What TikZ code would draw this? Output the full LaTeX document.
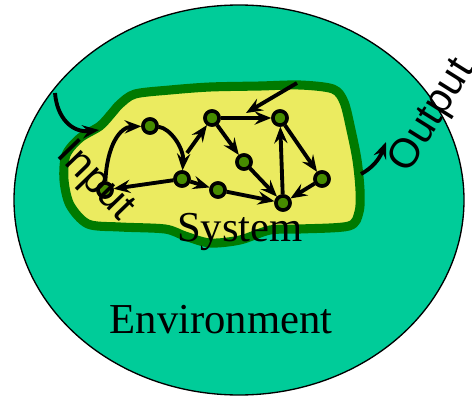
\documentclass[tikz,border=0pt]{standalone}
\usepackage{fontspec}
\setmainfont{Liberation Serif}
\newfontfamily\labelsans{Liberation Sans}
\usetikzlibrary{arrows.meta}
\definecolor{envfill}{RGB}{0,204,153}
\definecolor{sysfill}{RGB}{235,235,96}
\definecolor{sysedge}{RGB}{0,122,0}
\definecolor{statefill}{RGB}{70,140,0}
\begin{document}
\begin{tikzpicture}[x=0.75pt,y=-0.75pt,
  state/.style={circle,draw=black,fill=statefill,line width=2.6pt,minimum size=10.5pt,inner sep=0pt},
  flow/.style={line width=2.9pt,-{Stealth[length=12.5pt,width=10pt,inset=4.5pt]}},
  bigserif/.style={font=\fontsize{32}{36}\selectfont},
  sidelabel/.style={font=\labelsans\fontsize{31}{36}\selectfont},
]
\useasboundingbox (0,0) rectangle (472,396);

% environment
\draw[fill=envfill,line width=1pt] (239,200) ellipse [x radius=225, y radius=195];

% system boundary
\draw[sysedge,fill=sysfill,line width=6.8pt,line join=round]
  plot[smooth cycle,tension=0.5] coordinates {
  (120,104) (135,94) (170,90) (210,87) (260,86) (300,85) (333,89) (344,102)
  (351,130) (357,160) (360,190) (359,212) (349,226) (300,229) (270,230)
  (240,240) (210,243) (185,236) (165,229) (120,227) (88,224) (70,205)
  (64,180) (66,155) (80,138) (100,126) (112,113)};

% states
\node[state] (A) at (150,126) {};
\node[state] (B) at (182,179) {};
\node[state] (C) at (105,190) {};
\node[state] (D) at (218,190) {};
\node[state] (E) at (212,118) {};
\node[state] (F) at (244,162) {};
\node[state] (G) at (280,118) {};
\node[state] (H) at (283,203) {};
\node[state] (I) at (322,179) {};

% free ends of the outer and stub arrows
\coordinate (inA) at (55,93);
\coordinate (inB) at (99,130);
\coordinate (outA) at (361,174);
\coordinate (outB) at (386,142);
\coordinate (topA) at (297,83);
\coordinate (topB) at (246,113);
\coordinate (stub) at (187,153);

% flows between states
\draw[flow] (C) .. controls (107,145) and (120,127) .. (A);
\draw[flow] (A) .. controls (170,128) and (184,148) .. (B);
\draw[flow] (B) -- (C);
\draw[flow] (B) -- (D);
\draw[flow] (stub) -- (E);
\draw[flow] (E) -- (G);
\draw[flow] (E) -- (F);
\draw[flow] (G) -- (I);
\draw[flow] (H) -- (G);
\draw[flow] (F) -- (H);
\draw[flow] (D) -- (H);
\draw[flow] (I) -- (H);

% flows across the boundary
\draw[flow] (topA) -- (topB);
\draw[flow] (inA) .. controls (57,118) and (72,133) .. (inB);
\draw[flow] (outA) .. controls (372,168) and (379,160) .. (outB);

% redraw states above the flows
\foreach \n in {A,B,C,D,E,F,G,H,I}
  \node[state] at (\n) {};

% labels
\node[bigserif,anchor=base] (sys) at (240,241) {System};
\node[bigserif,anchor=base] (env) at (221,333) {Environment};
\node[sidelabel,anchor=base west,rotate=-46] (inlbl) at (52,152) {Input};
\node[sidelabel,anchor=base west,rotate=58] (outlbl) at (406,178) {Output};
\end{tikzpicture}
\end{document}
